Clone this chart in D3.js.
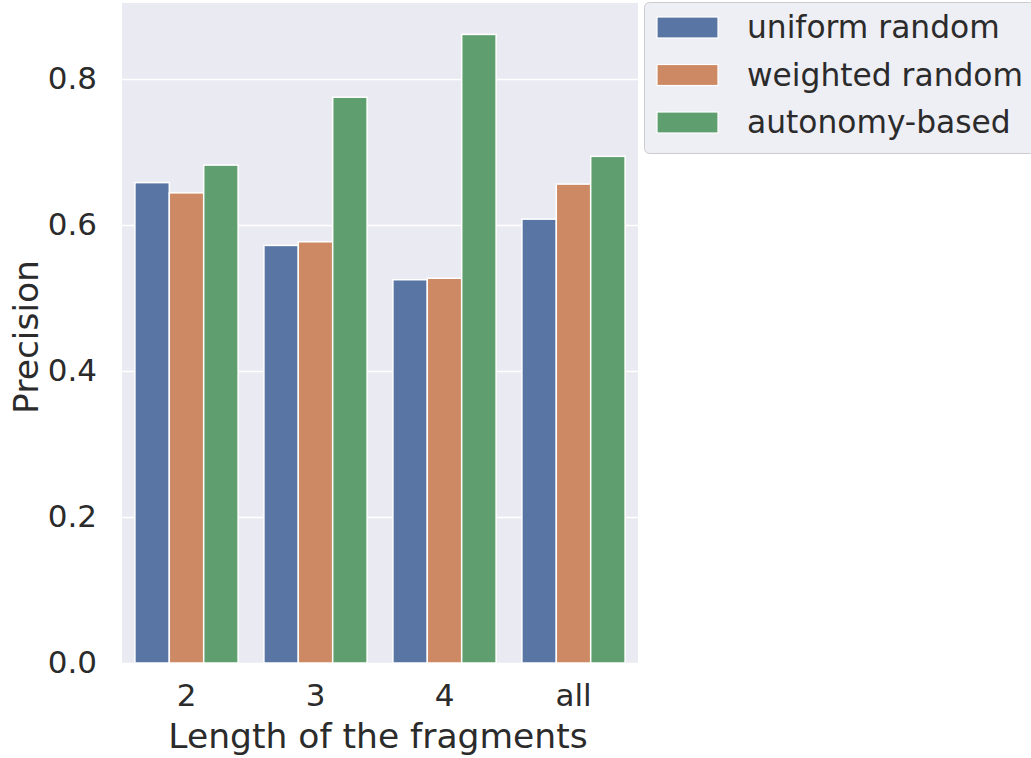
<!DOCTYPE html>
<html>
<head>
<meta charset="utf-8">
<script src="https://cdn.jsdelivr.net/npm/d3@7/dist/d3.min.js"></script>
<style>
  html, body { margin: 0; padding: 0; background: #ffffff; }
  svg { display: block; }
  text { font-family: "DejaVu Sans", sans-serif; fill: #2b2b2b; }
</style>
</head>
<body>
<svg id="chart" width="1031" height="758"></svg>
<script>
// Fragment lengths on the x axis
const categories = ["2", "3", "4", "all"];
// Selection strategies (legend order)
const seriesNames = ["uniform random", "weighted random", "autonomy-based"];
// Precision per strategy, one value per fragment length
const uniformRandom = [0.658, 0.572, 0.525, 0.608];
const weightedRandom = [0.644, 0.577, 0.527, 0.656];
const autonomyBased = [0.682, 0.775, 0.861, 0.694];
// Y axis ticks
const yTicks = [0.0, 0.2, 0.4, 0.6, 0.8];
const yTickLabels = ["0.0", "0.2", "0.4", "0.6", "0.8"];

const seriesValues = [uniformRandom, weightedRandom, autonomyBased];
const colors = ["#5875a4", "#cc8963", "#5f9e6e"];
const textColor = "#2b2b2b";

const svg = d3.select("#chart");
const plot = { left: 122, right: 638, top: 3, bottom: 663 };

const yMax = d3.max(seriesValues.flat()) * 1.05;
const y = d3.scaleLinear().domain([0, yMax]).range([plot.bottom, plot.top]);
const x = d3.scaleBand().domain(categories)
  .range([plot.left, plot.right]).paddingInner(0.2).paddingOuter(0.1);
const xSub = d3.scaleBand().domain(seriesNames).range([0, x.bandwidth()]);

// Axes background
svg.append("rect")
  .attr("x", plot.left).attr("y", plot.top)
  .attr("width", plot.right - plot.left).attr("height", plot.bottom - plot.top)
  .attr("fill", "#eaeaf2");

// Horizontal grid lines
const yAxisGrid = d3.axisLeft(y).tickValues(yTicks)
  .tickSize(-(plot.right - plot.left)).tickFormat("");
const grid = svg.append("g").attr("transform", `translate(${plot.left},0)`).call(yAxisGrid);
grid.select(".domain").remove();
grid.selectAll(".tick line").attr("stroke", "#ffffff").attr("stroke-width", 1.6);

// Bars
const rows = categories.map((c, i) => ({ cat: c, vals: seriesNames.map((s, j) => ({ s, j, v: seriesValues[j][i] })) }));
svg.append("g").selectAll("g").data(rows).join("g")
  .attr("transform", d => `translate(${x(d.cat)},0)`)
  .selectAll("rect").data(d => d.vals).join("rect")
  .attr("x", d => xSub(d.s))
  .attr("width", xSub.bandwidth())
  .attr("y", d => y(d.v))
  .attr("height", d => y(0) - y(d.v))
  .attr("fill", d => colors[d.j])
  .attr("stroke", "#ffffff")
  .attr("stroke-width", 1.5);

// Y tick labels
const yAxis = d3.axisLeft(y).tickValues(yTicks)
  .tickFormat((d, i) => yTickLabels[i]).tickSize(0).tickPadding(25);
const yg = svg.append("g").attr("transform", `translate(${plot.left},0)`).call(yAxis);
yg.select(".domain").remove();
yg.selectAll("text").attr("font-size", 31).attr("font-family", "DejaVu Sans").attr("fill", textColor);

// X tick labels
const xAxis = d3.axisBottom(x).tickSize(0).tickPadding(21);
const xg = svg.append("g").attr("transform", `translate(0,${plot.bottom})`).call(xAxis);
xg.select(".domain").remove();
xg.selectAll("text").attr("font-size", 31).attr("font-family", "DejaVu Sans").attr("fill", textColor);

// Axis titles
svg.append("text")
  .attr("x", 378).attr("y", 748)
  .attr("text-anchor", "middle").attr("font-size", 34.5)
  .text("Length of the fragments");
svg.append("text")
  .attr("transform", `translate(38,${(plot.top + plot.bottom) / 2 + 4}) rotate(-90)`)
  .attr("text-anchor", "middle").attr("font-size", 34.5)
  .text("Precision");

// Legend
const legend = svg.append("g");
legend.append("rect")
  .attr("x", 644.5).attr("y", 2.5).attr("width", 390).attr("height", 151)
  .attr("rx", 5).attr("fill", "#eaeaf2").attr("fill-opacity", 0.8)
  .attr("stroke", "#cccccc").attr("stroke-width", 1);
const items = legend.selectAll("g.item").data(seriesNames).join("g")
  .attr("class", "item")
  .attr("transform", (d, i) => `translate(657,${17 + i * 47.5})`);
items.append("rect")
  .attr("width", 61).attr("height", 21)
  .attr("fill", (d, i) => colors[i])
  .attr("stroke", "#ffffff").attr("stroke-width", 1.2);
items.append("text")
  .attr("x", 90).attr("y", 21)
  .attr("font-size", 31.3)
  .text(d => d);
</script>
</body>
</html>
